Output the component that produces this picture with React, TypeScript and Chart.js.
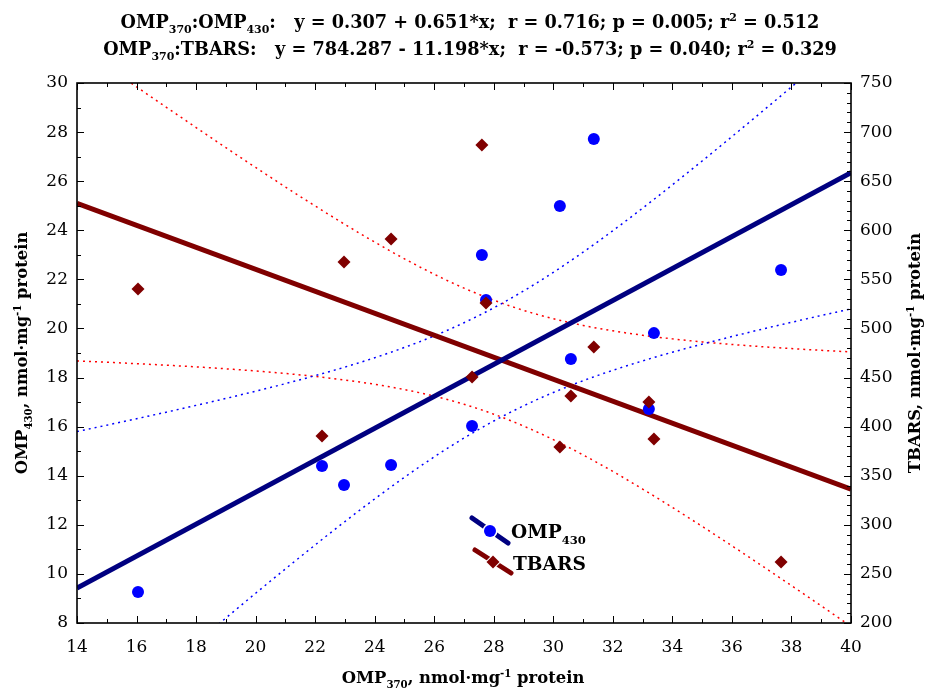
import React, { useEffect, useRef } from 'react';
import { Chart, registerables } from 'chart.js';

Chart.register(...registerables);

// ---- data ----
const omp370 = [16.05, 22.23, 22.97, 24.55, 27.27, 27.6, 27.74, 30.22, 30.59, 31.36, 33.21, 33.38, 37.65];
const omp430 = [9.26, 14.4, 13.62, 14.44, 16.03, 22.99, 21.16, 24.99, 18.76, 27.72, 16.72, 19.81, 22.38];
const tbars = [540.2, 390.5, 567.7, 591.1, 450.6, 686.9, 525.9, 379.3, 431.2, 481.1, 425.1, 387.4, 262.1];

// axis ranges / ticks
const X_MIN = 14, X_MAX = 40, X_STEP = 2;
const Y_MIN = 8, Y_MAX = 30, Y_STEP = 2;
const Y2_MIN = 200, Y2_MAX = 750, Y2_STEP = 50;

// regression coefficients as printed in the title
const fitOmp430 = { a: 0.307, b: 0.651 };
const fitTbars = { a: 784.287, b: -11.198 };
const T_CRIT_DF11 = 2.201; // 95% two-sided, n - 2 = 11

type Seg = [string, 'n' | 'sub' | 'sup'];
const titleLine1: Seg[] = [
  ['OMP', 'n'], ['370', 'sub'], [':OMP', 'n'], ['430', 'sub'],
  [':   y = 0.307 + 0.651*x;  r = 0.716; p = 0.005; r', 'n'], ['2', 'sup'], [' = 0.512', 'n'],
];
const titleLine2: Seg[] = [
  ['OMP', 'n'], ['370', 'sub'],
  [':TBARS:   y = 784.287 - 11.198*x;  r = -0.573; p = 0.040; r', 'n'], ['2', 'sup'], [' = 0.329', 'n'],
];
const xTitle: Seg[] = [['OMP', 'n'], ['370', 'sub'], [', nmol·mg', 'n'], ['-1', 'sup'], [' protein', 'n']];
const yTitle: Seg[] = [['OMP', 'n'], ['430', 'sub'], [', nmol·mg', 'n'], ['-1', 'sup'], [' protein', 'n']];
const y2Title: Seg[] = [['TBARS, nmol·mg', 'n'], ['-1', 'sup'], [' protein', 'n']];
const legend1: Seg[] = [['OMP', 'n'], ['430', 'sub']];
const legend2: Seg[] = [['TBARS', 'n']];

const FAMILY = "'DejaVu Serif', 'Liberation Serif', serif";
const TICK_FAMILY = "'DejaVu Serif', 'Liberation Serif', serif";
const NAVY = '#000080';
const DARKRED = '#800000';
const BLUE = '#0000ff';
const RED = '#ff0000';

function fitLine(fit: { a: number; b: number }) {
  return [X_MIN, X_MAX].map((x) => ({ x, y: fit.a + fit.b * x }));
}

// 95% confidence band of the regression mean, derived from the data
function confBand(xs: number[], ys: number[], fit: { a: number; b: number }, sign: number) {
  const n = xs.length;
  const mx = xs.reduce((s, v) => s + v, 0) / n;
  const sxx = xs.reduce((s, v) => s + (v - mx) * (v - mx), 0);
  const sse = xs.reduce((s, v, i) => s + Math.pow(ys[i] - (fit.a + fit.b * v), 2), 0);
  const se = Math.sqrt(sse / (n - 2));
  const steps = 104;
  const pts: { x: number; y: number }[] = [];
  for (let i = 0; i <= steps; i++) {
    const x = X_MIN + ((X_MAX - X_MIN) * i) / steps;
    const h = T_CRIT_DF11 * se * Math.sqrt(1 / n + ((x - mx) * (x - mx)) / sxx);
    pts.push({ x, y: fit.a + fit.b * x + sign * h });
  }
  return pts;
}

function richWidth(ctx: CanvasRenderingContext2D, segs: Seg[], size: number) {
  let w = 0;
  for (const s of segs) {
    ctx.font = `bold ${s[1] === 'n' ? size : size * 0.62}px ${FAMILY}`;
    w += ctx.measureText(s[0]).width;
  }
  return w;
}

function sizeForWidth(ctx: CanvasRenderingContext2D, segs: Seg[], target: number) {
  const w = richWidth(ctx, segs, 20);
  return (20 * target) / w;
}

function drawRich(ctx: CanvasRenderingContext2D, segs: Seg[], x: number, y: number, size: number, align: 'left' | 'center') {
  const small = size * 0.62;
  const w = richWidth(ctx, segs, size);
  let cx = align === 'center' ? x - w / 2 : x;
  ctx.textAlign = 'left';
  ctx.textBaseline = 'alphabetic';
  for (const s of segs) {
    ctx.font = `bold ${s[1] === 'n' ? size : small}px ${FAMILY}`;
    const dy = s[1] === 'sub' ? size * 0.3 : s[1] === 'sup' ? -size * 0.38 : 0;
    ctx.fillText(s[0], cx, y + dy);
    cx += ctx.measureText(s[0]).width;
  }
}

const decorPlugin = {
  id: 'decor',
  afterDraw(chart: any) {
    const ctx: CanvasRenderingContext2D = chart.ctx;
    const { left, right, top, bottom } = chart.chartArea;
    const xs = chart.scales.x, ys = chart.scales.y, y2 = chart.scales.y2;
    ctx.save();
    // inward tick marks
    ctx.strokeStyle = '#000';
    ctx.lineWidth = 1;
    ctx.beginPath();
    for (let v = X_MIN; v <= X_MAX; v += 1) {
      const px = Math.round(xs.getPixelForValue(v)) + 0.5;
      const len = v % X_STEP === 0 ? 7 : 4;
      ctx.moveTo(px, bottom); ctx.lineTo(px, bottom - len);
      ctx.moveTo(px, top); ctx.lineTo(px, top + len);
    }
    for (let v = Y_MIN; v <= Y_MAX; v += 1) {
      const py = Math.round(ys.getPixelForValue(v)) + 0.5;
      const len = v % Y_STEP === 0 ? 7 : 4;
      ctx.moveTo(left, py); ctx.lineTo(left + len, py);
    }
    for (let v = Y2_MIN; v <= Y2_MAX; v += 10) {
      const py = Math.round(y2.getPixelForValue(v)) + 0.5;
      const len = v % Y2_STEP === 0 ? 7 : 4;
      ctx.moveTo(right, py); ctx.lineTo(right - len, py);
    }
    ctx.stroke();
    // frame
    ctx.lineWidth = 1.6;
    ctx.strokeRect(left, top, right - left, bottom - top);

    // titles
    ctx.fillStyle = '#000';
    const titleSize = sizeForWidth(ctx, titleLine2, 734);
    drawRich(ctx, titleLine1, 470, 28, titleSize, 'center');
    drawRich(ctx, titleLine2, 470, 55, titleSize, 'center');
    const axSize = sizeForWidth(ctx, xTitle, 243);
    drawRich(ctx, xTitle, 463, 683, axSize, 'center');
    ctx.save();
    ctx.translate(27, (top + bottom) / 2);
    ctx.rotate(-Math.PI / 2);
    drawRich(ctx, yTitle, 0, 0, axSize, 'center');
    ctx.restore();
    ctx.save();
    ctx.translate(920, (top + bottom) / 2);
    ctx.rotate(-Math.PI / 2);
    drawRich(ctx, y2Title, 0, 0, axSize, 'center');
    ctx.restore();

    // legend
    const lx = left + 395, ly = top + 435;
    ctx.lineCap = 'round';
    ctx.lineWidth = 5;
    ctx.strokeStyle = NAVY;
    ctx.beginPath(); ctx.moveTo(lx, ly); ctx.lineTo(lx + 36, ly + 25); ctx.stroke();
    ctx.strokeStyle = DARKRED;
    ctx.beginPath(); ctx.moveTo(lx + 3, ly + 32); ctx.lineTo(lx + 39, ly + 55); ctx.stroke();
    // markers with white halo
    ctx.fillStyle = '#fff';
    ctx.beginPath(); ctx.arc(lx + 18, ly + 13, 7.5, 0, Math.PI * 2); ctx.fill();
    ctx.fillStyle = BLUE;
    ctx.beginPath(); ctx.arc(lx + 18, ly + 13, 6, 0, Math.PI * 2); ctx.fill();
    const dx = lx + 21, dy = ly + 44;
    ctx.fillStyle = '#fff';
    ctx.beginPath(); ctx.moveTo(dx, dy - 8); ctx.lineTo(dx + 8, dy); ctx.lineTo(dx, dy + 8); ctx.lineTo(dx - 8, dy); ctx.closePath(); ctx.fill();
    ctx.fillStyle = DARKRED;
    ctx.beginPath(); ctx.moveTo(dx, dy - 6.5); ctx.lineTo(dx + 6.5, dy); ctx.lineTo(dx, dy + 6.5); ctx.lineTo(dx - 6.5, dy); ctx.closePath(); ctx.fill();
    ctx.fillStyle = '#000';
    const legSize = sizeForWidth(ctx, legend2, 73);
    drawRich(ctx, legend1, lx + 39, ly + 20, legSize, 'left');
    drawRich(ctx, legend2, lx + 41, ly + 52, legSize, 'left');
    ctx.restore();
  },
};

export default function App() {
  const ref = useRef<HTMLCanvasElement | null>(null);
  useEffect(() => {
    if (!ref.current) return;
    const pts430 = omp370.map((x, i) => ({ x, y: omp430[i] }));
    const ptsTb = omp370.map((x, i) => ({ x, y: tbars[i] }));
    const tickFont = { family: TICK_FAMILY, size: 17 };
    const chart = new Chart(ref.current, {
      type: 'scatter',
      data: {
        datasets: [
          { label: 'TBARS', data: ptsTb, yAxisID: 'y2', pointStyle: 'rectRot', pointRadius: 6.5, backgroundColor: DARKRED, borderWidth: 0 },
          { label: 'OMP430', data: pts430, yAxisID: 'y', pointStyle: 'circle', pointRadius: 6, backgroundColor: BLUE, borderWidth: 0 },
          { label: 'fit430', data: fitLine(fitOmp430), yAxisID: 'y', showLine: true, borderColor: NAVY, borderWidth: 5, pointRadius: 0 },
          { label: 'fitTb', data: fitLine(fitTbars), yAxisID: 'y2', showLine: true, borderColor: DARKRED, borderWidth: 5, pointRadius: 0 },
          { label: 'ci430u', data: confBand(omp370, omp430, fitOmp430, 1), yAxisID: 'y', showLine: true, borderColor: BLUE, borderWidth: 1.5, borderDash: [2, 4], pointRadius: 0 },
          { label: 'ci430l', data: confBand(omp370, omp430, fitOmp430, -1), yAxisID: 'y', showLine: true, borderColor: BLUE, borderWidth: 1.5, borderDash: [2, 4], pointRadius: 0 },
          { label: 'ciTbu', data: confBand(omp370, tbars, fitTbars, 1), yAxisID: 'y2', showLine: true, borderColor: RED, borderWidth: 1.5, borderDash: [2, 4], pointRadius: 0 },
          { label: 'ciTbl', data: confBand(omp370, tbars, fitTbars, -1), yAxisID: 'y2', showLine: true, borderColor: RED, borderWidth: 1.5, borderDash: [2, 4], pointRadius: 0 },
        ],
      },
      options: {
        animation: false,
        responsive: false,
        layout: { padding: { top: 83, left: 0, right: 0, bottom: 0 } },
        plugins: { legend: { display: false }, tooltip: { enabled: false }, title: { display: false } },
        scales: {
          x: {
            type: 'linear', position: 'bottom', min: X_MIN, max: X_MAX,
            ticks: { stepSize: X_STEP, font: tickFont, color: '#000', padding: 14 },
            grid: { display: false, drawTicks: false }, border: { display: false },
            afterFit: (s: any) => { s.height = 68; },
          },
          y: {
            type: 'linear', position: 'left', min: Y_MIN, max: Y_MAX,
            ticks: { stepSize: Y_STEP, font: tickFont, color: '#000', padding: 9 },
            grid: { display: false, drawTicks: false }, border: { display: false },
            afterFit: (s: any) => { s.width = 77; },
          },
          y2: {
            type: 'linear', position: 'right', min: Y2_MIN, max: Y2_MAX,
            ticks: { stepSize: Y2_STEP, font: tickFont, color: '#000', padding: 9 },
            grid: { display: false, drawTicks: false }, border: { display: false },
            afterFit: (s: any) => { s.width = 80; },
          },
        },
      },
      plugins: [decorPlugin],
    } as any);
    return () => chart.destroy();
  }, []);
  return (
    <div style={{ position: 'absolute', left: 0, top: 0, width: 931, height: 691, background: '#fff' }}>
      <canvas ref={ref} width={931} height={691} style={{ width: 931, height: 691, display: 'block' }} />
    </div>
  );
}
